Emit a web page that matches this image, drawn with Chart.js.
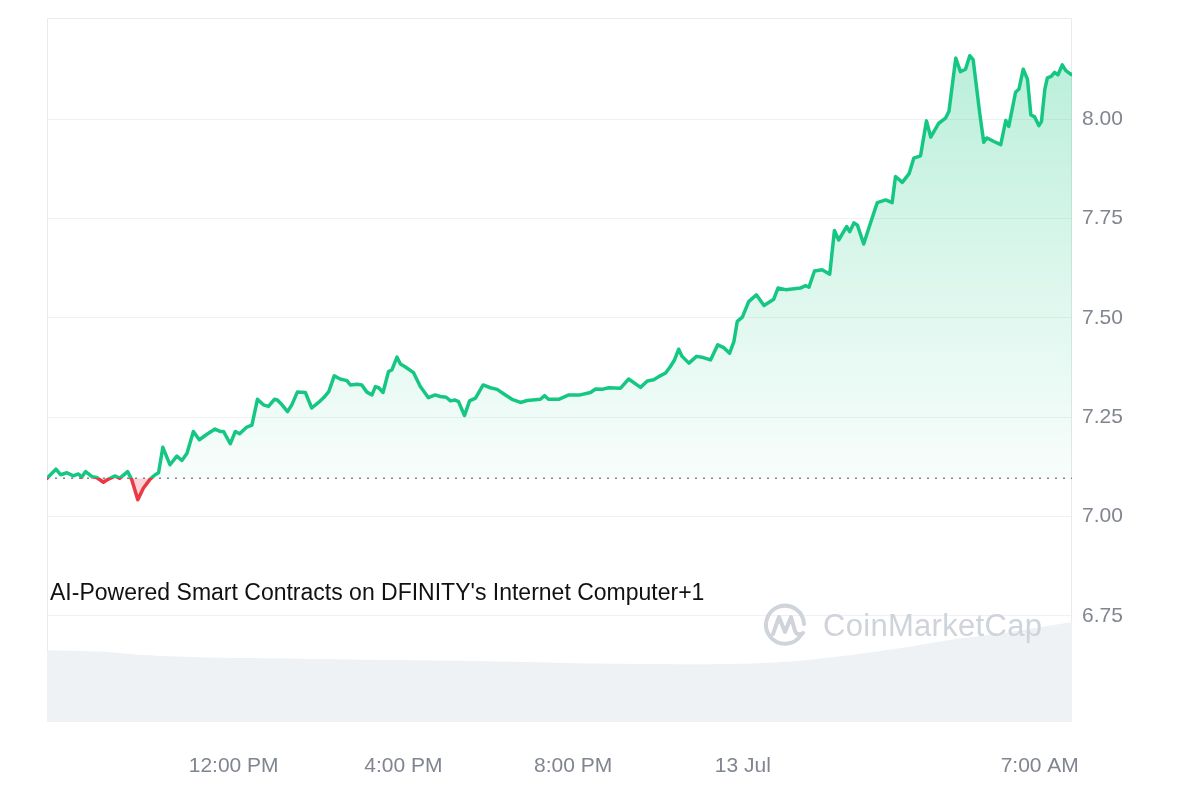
<!DOCTYPE html>
<html>
<head>
    <title>ICP price</title>
    <script src="https://cdn.jsdelivr.net/npm/chart.js"></script>
    <style>
        body { margin: 0; background: #fff; }
        #wrap { position: relative; width: 1200px; height: 800px; font-family: "Liberation Sans", Arial, sans-serif; }
        .caption { position: absolute; left: 50px; top: 579px; font-size: 23px; line-height: 26px; color: #111; white-space: nowrap; }
        .watermark { position: absolute; left: 761px; top: 602px; height: 48px; display: flex; align-items: center; color: #cfd3da; }
        .watermark span { font-size: 31px; margin-left: 14px; letter-spacing: 0.3px; }
    </style>
</head>
<body>
<div id="wrap">
    <canvas id="priceChart" width="1200" height="800"></canvas>
    <div class="caption">AI-Powered Smart Contracts on DFINITY's Internet Computer+1</div>
    <div class="watermark">
        <svg width="48" height="48" viewBox="0 0 48 48">
            <path d="M40 33 A19 19 0 1 1 43 22" fill="none" stroke="#cfd3da" stroke-width="4" stroke-linecap="round"/>
            <path d="M12 32 L18 15 L24 30 L30 15 L34 29 Q36 34 42 31" fill="none" stroke="#cfd3da" stroke-width="4" stroke-linejoin="round" stroke-linecap="round"/>
        </svg>
        <span>CoinMarketCap</span>
    </div>
</div>

<script>
// time in hours from 12 Jul 00:00
const hours = [7.60, 7.81, 7.92, 8.07, 8.22, 8.34, 8.42, 8.51, 8.66, 8.77,
    8.93, 9.05, 9.21, 9.31, 9.50, 9.60, 9.74, 9.87, 10.03, 10.15,
    10.23, 10.33, 10.50, 10.66, 10.78, 10.90, 11.05, 11.19, 11.37, 11.56,
    11.68, 11.76, 11.92, 12.04, 12.14, 12.31, 12.43, 12.56, 12.70, 12.82,
    12.96, 13.03, 13.14, 13.27, 13.37, 13.50, 13.69, 13.84, 14.00, 14.13,
    14.24, 14.37, 14.51, 14.67, 14.75, 14.91, 15.02, 15.14, 15.26, 15.34,
    15.42, 15.52, 15.65, 15.73, 15.85, 15.93, 16.04, 16.24, 16.40, 16.59,
    16.75, 16.87, 17.01, 17.11, 17.22, 17.30, 17.44, 17.56, 17.70, 17.88,
    18.05, 18.21, 18.36, 18.56, 18.76, 18.92, 19.23, 19.33, 19.42, 19.66,
    19.90, 20.17, 20.41, 20.53, 20.68, 20.84, 21.12, 21.31, 21.59, 21.75,
    21.90, 22.02, 22.18, 22.29, 22.39, 22.49, 22.57, 22.73, 22.91, 23.07,
    23.24, 23.41, 23.55, 23.69, 23.79, 23.87, 23.99, 24.14, 24.32, 24.50,
    24.73, 24.83, 25.01, 25.36, 25.48, 25.56, 25.69, 25.87, 26.05, 26.16,
    26.26, 26.45, 26.52, 26.62, 26.70, 26.85, 27.01, 27.17, 27.37, 27.52,
    27.60, 27.76, 27.92, 28.03, 28.19, 28.33, 28.43, 28.62, 28.78, 28.86,
    29.02, 29.13, 29.25, 29.35, 29.43, 29.59, 29.68, 29.75, 29.92, 30.08,
    30.20, 30.27, 30.43, 30.51, 30.61, 30.71, 30.79, 30.88, 30.98, 31.04,
    31.12, 31.18, 31.27, 31.35, 31.43, 31.53, 31.61, 31.71, 31.76];

const prices = [7.096, 7.119, 7.105, 7.110, 7.102, 7.107, 7.099, 7.113, 7.100, 7.098,
    7.086, 7.094, 7.102, 7.096, 7.113, 7.092, 7.042, 7.071, 7.094, 7.105,
    7.110, 7.174, 7.130, 7.152, 7.141, 7.159, 7.214, 7.193, 7.207, 7.220,
    7.214, 7.214, 7.183, 7.214, 7.208, 7.225, 7.230, 7.295, 7.281, 7.277,
    7.295, 7.293, 7.281, 7.264, 7.281, 7.313, 7.312, 7.273, 7.287, 7.300,
    7.314, 7.354, 7.346, 7.342, 7.331, 7.333, 7.331, 7.313, 7.306, 7.327,
    7.324, 7.312, 7.365, 7.369, 7.401, 7.384, 7.377, 7.362, 7.327, 7.299,
    7.306, 7.302, 7.300, 7.291, 7.293, 7.289, 7.254, 7.291, 7.298, 7.331,
    7.324, 7.320, 7.309, 7.295, 7.287, 7.292, 7.295, 7.304, 7.295, 7.295,
    7.306, 7.306, 7.312, 7.321, 7.320, 7.324, 7.323, 7.346, 7.325, 7.341,
    7.344, 7.352, 7.361, 7.377, 7.394, 7.421, 7.403, 7.386, 7.403, 7.400,
    7.394, 7.432, 7.425, 7.411, 7.440, 7.491, 7.502, 7.541, 7.558, 7.531,
    7.547, 7.575, 7.571, 7.575, 7.581, 7.577, 7.618, 7.621, 7.610, 7.720,
    7.696, 7.730, 7.717, 7.739, 7.734, 7.686, 7.739, 7.790, 7.797, 7.790,
    7.856, 7.841, 7.863, 7.902, 7.908, 7.996, 7.955, 7.990, 8.003, 8.020,
    8.154, 8.120, 8.126, 8.160, 8.150, 8.011, 7.942, 7.953, 7.944, 7.936,
    7.997, 7.982, 8.068, 8.076, 8.126, 8.101, 8.011, 8.006, 7.984, 7.994,
    8.076, 8.104, 8.108, 8.118, 8.112, 8.137, 8.123, 8.115, 8.112];

// volume (relative units)
const volHours = [7.60, 8.85, 9.87, 11.21, 13.57, 15.93, 18.29, 20.64, 23.00, 24.18, 25.36, 26.54, 27.72, 28.90, 30.08, 31.03, 31.76];
const volumes = [10.2, 10.0, 9.5, 9.2, 9.0, 8.8, 8.6, 8.3, 8.2, 8.3, 8.7, 9.5, 10.5, 11.7, 12.6, 13.5, 14.2];

const xTickHours = [12, 16, 20, 24, 31];
const xTickLabels = ['12:00 PM', '4:00 PM', '8:00 PM', '13 Jul', '7:00 AM'];
const yTicks = [6.75, 7.00, 7.25, 7.50, 7.75, 8.00];

const base = prices[0];
const green = '#16c784';
const red = '#ea3943';
const FONT = '"Liberation Sans", Arial, sans-serif';

function splitStroke(ctx) {
    const chart = ctx.chart;
    const a = chart.chartArea;
    if (!a) return green;
    const y = chart.scales.y.getPixelForValue(base);
    const f = Math.min(Math.max((y - a.top) / (a.bottom - a.top), 0), 1);
    const g = chart.ctx.createLinearGradient(0, a.top, 0, a.bottom);
    g.addColorStop(0, green);
    g.addColorStop(f, green);
    g.addColorStop(f, red);
    g.addColorStop(1, red);
    return g;
}

function priceFill(ctx) {
    const chart = ctx.chart;
    const a = chart.chartArea;
    if (!a) return { target: { value: base }, above: 'rgba(22,199,132,0.15)', below: 'rgba(234,57,67,0.22)' };
    const y = chart.scales.y.getPixelForValue(base);
    const g = chart.ctx.createLinearGradient(0, a.top, 0, y);
    g.addColorStop(0, 'rgba(22,199,132,0.32)');
    g.addColorStop(0.5, 'rgba(22,199,132,0.17)');
    g.addColorStop(1, 'rgba(22,199,132,0.03)');
    return { target: { value: base }, above: g, below: 'rgba(234,57,67,0.22)' };
}

const frame = {
    id: 'frame',
    beforeDatasetsDraw(chart) {
        const { ctx, chartArea: a } = chart;
        ctx.save();
        ctx.strokeStyle = '#e8eaee';
        ctx.lineWidth = 1;
        ctx.beginPath();
        ctx.moveTo(a.left + 0.5, a.bottom);
        ctx.lineTo(a.left + 0.5, a.top + 0.5);
        ctx.lineTo(a.right - 0.5, a.top + 0.5);
        ctx.lineTo(a.right - 0.5, a.bottom);
        ctx.stroke();
        ctx.restore();
    }
};

new Chart(document.getElementById('priceChart'), {
    type: 'line',
    data: {
        datasets: [{
            label: 'Price',
            data: hours.map((h, i) => ({ x: h, y: prices[i] })),
            borderColor: splitStroke,
            borderWidth: 3.5,
            borderJoinStyle: 'round',
            borderCapStyle: 'round',
            pointRadius: 0,
            tension: 0,
            fill: priceFill,
            order: 1
        }, {
            label: 'Open',
            data: [{ x: hours[0], y: base }, { x: hours[hours.length - 1], y: base }],
            borderColor: '#7d8596',
            borderWidth: 1.5,
            borderDash: [2, 6],
            pointRadius: 0,
            fill: false,
            order: 2
        }, {
            label: 'Volume',
            data: volHours.map((h, i) => ({ x: h, y: volumes[i] })),
            yAxisID: 'yv',
            borderWidth: 0,
            backgroundColor: '#eff2f5',
            pointRadius: 0,
            tension: 0.3,
            fill: 'origin',
            order: 3
        }]
    },
    options: {
        responsive: false,
        devicePixelRatio: 1,
        animation: false,
        layout: { padding: { left: 47, top: 18, right: 0, bottom: 0 } },
        plugins: { legend: { display: false }, tooltip: { enabled: false } },
        scales: {
            x: {
                type: 'linear',
                min: 7.60,
                max: 31.76,
                grid: { display: false, drawTicks: false },
                border: { display: false },
                afterBuildTicks: (s) => { s.ticks = xTickHours.map(v => ({ value: v })); },
                afterFit: (s) => { s.height = 78; },
                ticks: {
                    autoSkip: false,
                    maxRotation: 0,
                    padding: 32,
                    color: '#80858f',
                    font: { family: FONT, size: 21 },
                    callback: (v) => xTickLabels[xTickHours.indexOf(v)]
                }
            },
            y: {
                position: 'right',
                min: 6.4824,
                max: 8.255,
                grid: { color: '#eff1f4', drawTicks: false },
                border: { display: false },
                afterBuildTicks: (s) => { s.ticks = yTicks.map(v => ({ value: v })); },
                afterFit: (s) => { s.width = 128; s.paddingTop = 0; s.paddingBottom = 0; },
                ticks: {
                    padding: 10,
                    color: '#80858f',
                    font: { family: FONT, size: 21 },
                    callback: (v) => v.toFixed(2)
                }
            },
            yv: {
                display: false,
                min: 0,
                max: 100
            }
        }
    },
    plugins: [frame]
});
</script>
</body>
</html>
